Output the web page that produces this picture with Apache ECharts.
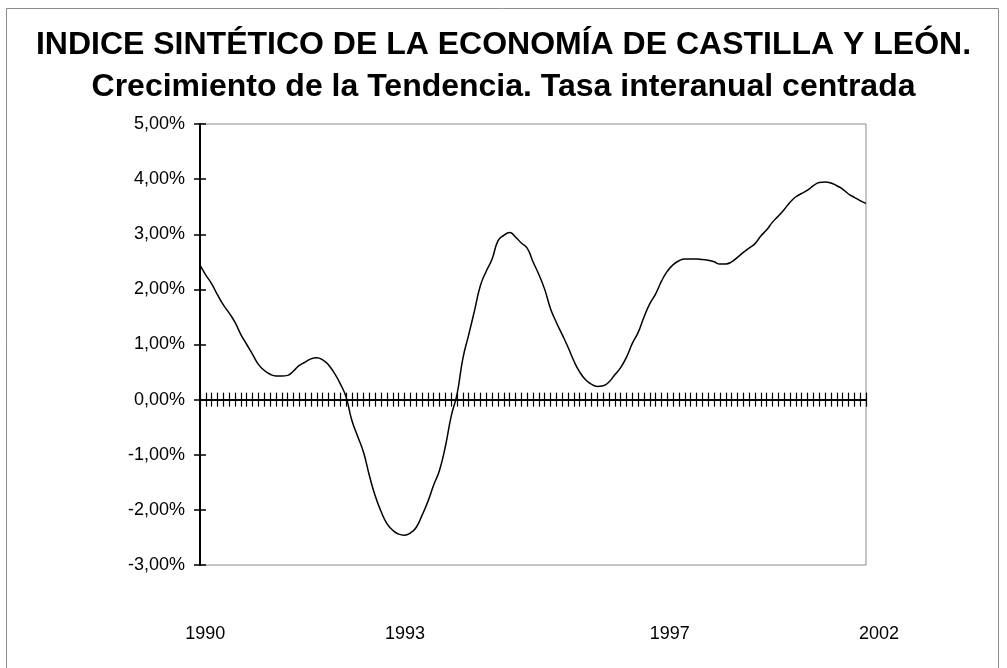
<!DOCTYPE html>
<html>
<head>
<meta charset="utf-8">
<script src="https://cdn.jsdelivr.net/npm/echarts@6/dist/echarts.min.js"></script>
<style>
html,body{margin:0;padding:0;background:#fff;}
#c{width:1007px;height:668px;}
</style>
</head>
<body>
<div id="c"></div>
<script>
// ---- data ----
const titleLine1 = 'INDICE SINTÉTICO DE LA ECONOMÍA DE CASTILLA Y LEÓN.';
const titleLine2 = 'Crecimiento de la Tendencia. Tasa interanual centrada';
const values = [
 2.44,2.26,2.10,1.90,1.72,1.57,1.40,1.18,1.00,0.82,
 0.64,0.53,0.46,0.43,0.43,0.44,0.52,0.62,0.68,0.74,
 0.76,0.72,0.63,0.48,0.29,0.05,-0.38,-0.67,-0.96,-1.38,
 -1.75,-2.03,-2.25,-2.37,-2.44,-2.46,-2.42,-2.32,-2.10,-1.85,
 -1.55,-1.28,-0.85,-0.30,0.10,0.75,1.18,1.62,2.07,2.33,
 2.55,2.88,2.98,3.03,2.95,2.84,2.75,2.50,2.27,2.00,
 1.65,1.40,1.18,0.95,0.70,0.50,0.36,0.28,0.24,0.25,
 0.32,0.45,0.58,0.77,1.02,1.22,1.50,1.74,1.92,2.15,
 2.33,2.45,2.52,2.55,2.55,2.55,2.54,2.53,2.50,2.46,
 2.46,2.50,2.58,2.67,2.75,2.83,2.97,3.08,3.22,3.33,
 3.45,3.58,3.68,3.74,3.80,3.88,3.94,3.95,3.93,3.88,
 3.82,3.73,3.67,3.61,3.56
];
const categories = values.map((v, i) => String(i));
const xTickLabels = ['1990', '1993', '1997', '2002'];
const xTickPos = [0.9, 35.1, 80.4, 114];   // positions along the category index scale
const yMin = -3, yMax = 5, yStep = 1;

const FONT = "'Liberation Sans',Arial,sans-serif";
const fmtPct = v => v.toFixed(2).replace('.', ',') + '%';

const chart = echarts.init(document.getElementById('c'), null, {renderer: 'canvas'});
const grid = {left: 200, top: 124, width: 666, height: 441, show: true, borderColor: '#8c8c8c', borderWidth: 1, backgroundColor: 'transparent'};

const yBase = {
  type: 'value', min: yMin, max: yMax, interval: yStep, position: 'left',
  splitLine: {show: false},
  axisLine: {show: true, lineStyle: {color: '#000', width: 2}},
};

chart.setOption({
  animation: false,
  backgroundColor: '#fff',
  title: [
    {text: titleLine1, left: 'center', top: 24, textStyle: {fontFamily: FONT, fontWeight: 'bold', fontSize: 32, color: '#000'}},
    {text: titleLine2, left: 'center', top: 66, textStyle: {fontFamily: FONT, fontWeight: 'bold', fontSize: 32, color: '#000'}}
  ],
  graphic: [{type: 'rect', shape: {x: 6.5, y: 8.5, width: 992, height: 700}, style: {fill: 'none', stroke: '#8c8c8c', lineWidth: 1}, silent: true, z: -1}],
  grid: grid,
  xAxis: [
    {type: 'category', data: categories, boundaryGap: false, position: 'bottom',
     axisLine: {onZero: true, lineStyle: {color: '#000', width: 2}},
     axisTick: {show: true, interval: 0, length: 7, inside: false, lineStyle: {color: '#000', width: 1.2}},
     axisLabel: {show: false}},
    {type: 'category', data: categories, boundaryGap: false, position: 'bottom',
     axisLine: {onZero: true, lineStyle: {color: '#000', width: 2}},
     axisTick: {show: true, interval: 0, length: 7, inside: true, lineStyle: {color: '#000', width: 1.2}},
     axisLabel: {show: false}},
    {type: 'value', min: 0, max: values.length - 1, position: 'bottom',
     axisLine: {show: false, onZero: false}, axisTick: {show: false}, splitLine: {show: false},
     axisLabel: {show: true, customValues: xTickPos, margin: 60, fontFamily: FONT, fontSize: 18, color: '#000',
       showMinLabel: true, showMaxLabel: true,
       formatter: v => {
         const k = xTickPos.indexOf(v);
         return k === xTickLabels.length - 1 ? '{e|' + xTickLabels[k] + '}' : (k >= 0 ? xTickLabels[k] : '');
       },
       rich: {e: {fontFamily: FONT, fontSize: 18, color: '#000', padding: [0, 0, 0, 26]}}}}
  ],
  yAxis: [
    Object.assign({}, yBase, {
      axisTick: {show: true, length: 6, inside: false, lineStyle: {color: '#000', width: 1.5}},
      axisLabel: {show: true, margin: 15, fontFamily: FONT, fontSize: 18, color: '#000', formatter: fmtPct}}),
    Object.assign({}, yBase, {
      axisTick: {show: true, length: 6, inside: true, lineStyle: {color: '#000', width: 1.5}},
      axisLabel: {show: false}})
  ],
  series: [{
    type: 'line', data: values, xAxisIndex: 0, yAxisIndex: 0,
    showSymbol: false, smooth: true, z: 5,
    lineStyle: {color: '#000', width: 1.5}
  }]
});
</script>
</body>
</html>
